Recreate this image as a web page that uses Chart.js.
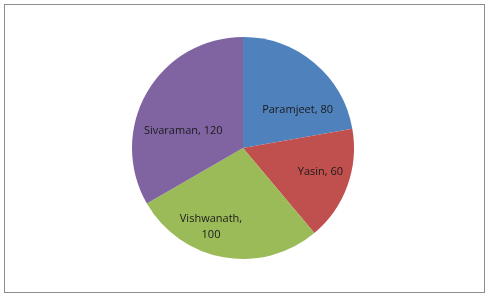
<!DOCTYPE html>
<html>
<head>
<meta charset="utf-8">
<script src="https://cdn.jsdelivr.net/npm/chart.js@4"></script>
<style>
    html, body { margin: 0; padding: 0; background: #fff; }
    #wrap { position: relative; width: 498px; height: 297px; }
    #frame {
        position: absolute; left: 4px; top: 4px; width: 479px; height: 287px;
        border: 1px solid #8c8c8c; box-sizing: content-box;
    }
    canvas { position: absolute; left: 0; top: 0; }
</style>
</head>
<body>
<div id="wrap">
    <div id="frame"></div>
    <canvas id="pieChart" width="498" height="297"></canvas>
</div>
<script>
// ===== DATOS =====
const nombres = ['Paramjeet', 'Yasin', 'Vishwanath', 'Sivaraman'];
const valores = [80, 60, 100, 120];
const colores = ['#4F81BD', '#C0504D', '#9BBB59', '#8064A2'];

// label placement: angle (deg, clockwise from top) and fraction of radius
const etiquetas = [
    { ang: 55, frac: 0.60, lines: null },
    { ang: 107, frac: 0.73, lines: null },
    { ang: 202, frac: 0.77, lines: 2 },
    { ang: 286, frac: 0.56, lines: null }
];

const etiquetasPlugin = {
    id: 'etiquetas',
    afterDatasetsDraw(chart) {
        const ctx = chart.ctx;
        const meta = chart.getDatasetMeta(0);
        ctx.save();
        ctx.font = '11px "Open Sans"';
        ctx.fillStyle = '#1a1a1a';
        ctx.textAlign = 'center';
        ctx.textBaseline = 'middle';
        meta.data.forEach((arc, i) => {
            const e = etiquetas[i];
            const a = e.ang * Math.PI / 180;
            const r = arc.outerRadius * e.frac;
            const x = arc.x + Math.sin(a) * r;
            const y = arc.y - Math.cos(a) * r;
            if (e.lines === 2) {
                ctx.fillText(nombres[i] + ',', x, y - 8);
                ctx.fillText(String(valores[i]), x, y + 8);
            } else {
                ctx.fillText(nombres[i] + ', ' + valores[i], x, y);
            }
        });
        ctx.restore();
    }
};

new Chart(document.getElementById('pieChart'), {
    type: 'pie',
    data: {
        labels: nombres,
        datasets: [{
            data: valores,
            backgroundColor: colores,
            borderWidth: 0
        }]
    },
    options: {
        responsive: false,
        animation: false,
        layout: {
            padding: { left: 132, right: 144, top: 37, bottom: 38 }
        },
        plugins: {
            legend: { display: false },
            tooltip: { enabled: false }
        }
    },
    plugins: [etiquetasPlugin]
});
</script>
</body>
</html>
